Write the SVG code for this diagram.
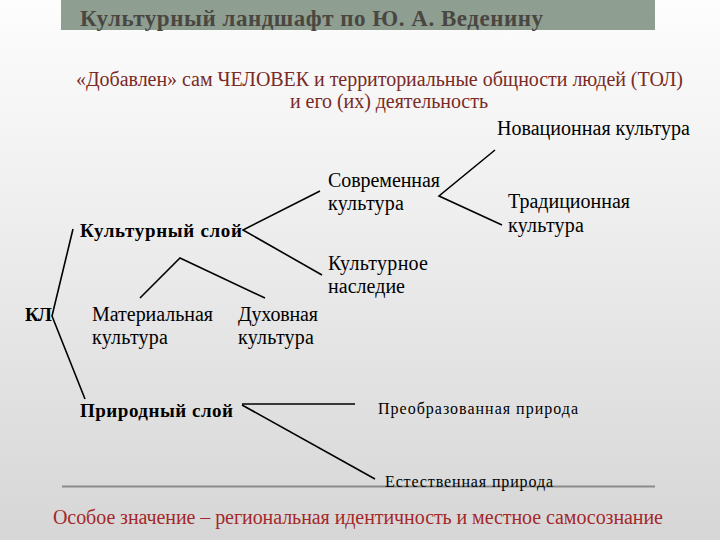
<svg xmlns="http://www.w3.org/2000/svg" width="720" height="540" viewBox="0 0 720 540">
  <defs>
    <linearGradient id="bg" x1="0" y1="0" x2="0" y2="1">
      <stop offset="0" stop-color="#fdfdfd"/>
      <stop offset="0.3" stop-color="#f2f2f2"/>
      <stop offset="1" stop-color="#d6d6d6"/>
    </linearGradient>
    <linearGradient id="rule" x1="0" y1="0" x2="0" y2="1">
      <stop offset="0" stop-color="#c8c8c8"/>
      <stop offset="0.5" stop-color="#8a8a8a"/>
      <stop offset="1" stop-color="#c8c8c8"/>
    </linearGradient>
  </defs>
  <style>
    text { font-family: "Liberation Serif", "DejaVu Serif", serif; }
    .t { font-size: 20px; fill: #000; }
    .b { font-size: 19px; font-weight: bold; fill: #000; }
    .s { font-size: 16px; fill: #000; }
    .red { font-size: 20px; fill: #7a2a24; }
    .foot { font-size: 20px; fill: #a3282a; }
    .title { font-size: 23px; font-weight: bold; fill: #4a4741; }
    .ln { stroke: #000; stroke-width: 1.6; fill: none; stroke-linejoin: miter; }
  </style>
  <rect x="0" y="0" width="720" height="540" fill="url(#bg)"/>

  <g id="header">
    <rect x="61" y="0" width="594" height="30" fill="#8e9e91"/>
    <text class="title" x="80" y="26" textLength="463" lengthAdjust="spacing">Культурный ландшафт по Ю. А. Веденину</text>
  </g>

  <g id="subtitle">
    <text class="red" x="76" y="86" textLength="607" lengthAdjust="spacing">«Добавлен» сам ЧЕЛОВЕК и территориальные общности людей (ТОЛ)</text>
    <text class="red" x="290" y="108" textLength="198" lengthAdjust="spacing">и его (их) деятельность</text>
  </g>

  <g id="connectors">
    <polyline class="ln" points="73,229 52,316 85,399"/>
    <polyline class="ln" points="320,191 243,230 322,275"/>
    <polyline class="ln" points="495,150 439,196 502,225"/>
    <polyline class="ln" points="140,298 180,258 265,298"/>
    <line class="ln" x1="242" y1="404" x2="355" y2="404" stroke-width="2.6"/>
    <line class="ln" x1="242" y1="405" x2="375" y2="479"/>
  </g>

  <g id="node-kl"><text class="b" x="25" y="321" textLength="27" lengthAdjust="spacing">КЛ</text></g>
  <g id="node-cultural-layer"><text class="b" x="80" y="237" textLength="162" lengthAdjust="spacing">Культурный слой</text></g>
  <g id="node-natural-layer"><text class="b" x="80" y="417" textLength="153" lengthAdjust="spacing">Природный слой</text></g>

  <g id="node-material">
    <text class="t" x="92" y="321" textLength="121" lengthAdjust="spacing">Материальная</text>
    <text class="t" x="92" y="344" textLength="76" lengthAdjust="spacing">культура</text>
  </g>
  <g id="node-spiritual">
    <text class="t" x="238" y="321" textLength="80" lengthAdjust="spacing">Духовная</text>
    <text class="t" x="238" y="344" textLength="76" lengthAdjust="spacing">культура</text>
  </g>
  <g id="node-modern">
    <text class="t" x="328" y="187" textLength="112" lengthAdjust="spacing">Современная</text>
    <text class="t" x="328" y="210" textLength="76" lengthAdjust="spacing">культура</text>
  </g>
  <g id="node-heritage">
    <text class="t" x="328" y="270" textLength="100" lengthAdjust="spacing">Культурное</text>
    <text class="t" x="328" y="293" textLength="77" lengthAdjust="spacing">наследие</text>
  </g>
  <g id="node-innovative">
    <text class="t" x="497" y="135" textLength="193" lengthAdjust="spacing">Новационная культура</text>
  </g>
  <g id="node-traditional">
    <text class="t" x="508" y="208" textLength="122" lengthAdjust="spacing">Традиционная</text>
    <text class="t" x="508" y="232" textLength="76" lengthAdjust="spacing">культура</text>
  </g>
  <g id="node-transformed">
    <text class="s" x="378" y="414" textLength="200" lengthAdjust="spacing">Преобразованная природа</text>
  </g>

  <rect x="62" y="485" width="593" height="3" fill="url(#rule)"/>

  <g id="node-natural">
    <text class="s" x="385" y="487" textLength="168" lengthAdjust="spacing">Естественная природа</text>
  </g>

  <g id="footer">
    <text class="foot" x="53" y="524" textLength="610" lengthAdjust="spacing">Особое значение – региональная идентичность и местное самосознание</text>
  </g>
</svg>
